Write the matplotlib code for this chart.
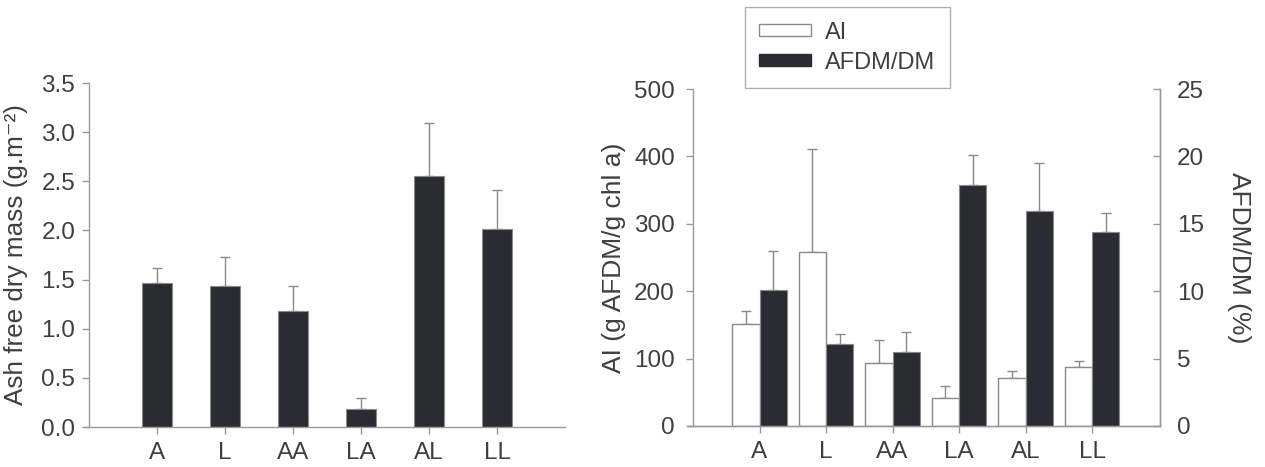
import numpy as np
import matplotlib
matplotlib.use("Agg")
import matplotlib.pyplot as plt
from matplotlib.patches import Patch

plt.rcParams['font.family'] = ['Liberation Sans', 'DejaVu Sans']

# data
treatments = ['A', 'L', 'AA', 'LA', 'AL', 'LL']
afdm_mean = [1.465, 1.435, 1.18, 0.18, 2.555, 2.01]
afdm_err = [0.155, 0.295, 0.255, 0.115, 0.535, 0.40]

ai_mean = [151, 258, 93, 42, 71, 88]
ai_err = [19, 153, 35, 18, 10, 8]
ratio_mean = [10.1, 6.05, 5.5, 17.9, 15.95, 14.4]
ratio_err = [2.9, 0.75, 1.5, 2.2, 3.55, 1.4]

dark = '#2b2c31'
edge = '#8a8a8a'
axcol = '#9a9a9a'
txt = '#3f3f3f'
fs = 17.5

W, H = 1265, 467
fig = plt.figure(figsize=(W / 100, H / 100), dpi=100)

def style(ax):
    for s in ax.spines.values():
        s.set_color(axcol)
        s.set_linewidth(1.0)
    ax.tick_params(colors=axcol, labelcolor=txt, labelsize=fs, width=1.0, length=5)

# left panel
ax1 = fig.add_axes([85 / W, (H - 427) / H, 480 / W, 344 / H])
x = np.arange(len(treatments))
ax1.bar(x, afdm_mean, width=0.43, color=dark, edgecolor=edge, linewidth=0.8, zorder=2)
ax1.errorbar(x, afdm_mean, yerr=[np.zeros(len(x)), afdm_err], fmt='none',
             ecolor=edge, elinewidth=1.0, capsize=3.8, capthick=1.0, zorder=1)
ax1.set_xlim(-1.06, 6.0)
ax1.set_ylim(0, 3.5)
ax1.set_yticks(np.arange(0, 3.51, 0.5))
ax1.set_yticklabels([f'{v:.1f}' for v in np.arange(0, 3.51, 0.5)])
ax1.set_xticks(x)
ax1.set_xticklabels(treatments)
ax1.spines['top'].set_visible(False)
ax1.spines['right'].set_visible(False)
ax1.spines['left'].set_position(('data', -1))
style(ax1)
ax1.tick_params(axis='x', pad=6)
ax1.tick_params(axis='y', pad=5)
ax1.set_ylabel('Ash free dry mass (g.m⁻²)', fontsize=18.8, color=txt)
ax1.yaxis.set_label_coords(-0.118, 0.5)

# right panel
ax2 = fig.add_axes([688 / W, (H - 426) / H, 472 / W, 337 / H])
bw = 0.41
ax2.bar(x - bw, ai_mean, width=bw, align='edge', color='white', edgecolor=edge,
        linewidth=1.0, zorder=2, label='AI')
ax2.errorbar(x - bw / 2, ai_mean, yerr=[np.zeros(len(x)), ai_err], fmt='none',
             ecolor=edge, elinewidth=1.0, capsize=3.8, capthick=1.0, zorder=1)
ax2.set_xlim(-1.075, 6.02)
ax2.set_ylim(0, 500)
ax2.set_yticks(range(0, 501, 100))
ax2.set_xticks(x)
ax2.set_xticklabels(treatments)
ax2.spines['top'].set_visible(False)
ax2.spines['left'].set_position(('data', -1))
style(ax2)
ax2.tick_params(axis='x', pad=6)
ax2.tick_params(axis='y', pad=8)
ax2.set_ylabel('AI (g AFDM/g chl a)', fontsize=19, color=txt, labelpad=6)

ax3 = ax2.twinx()
ax3.bar(x, ratio_mean, width=bw, align='edge', color=dark, edgecolor=edge,
        linewidth=0.8, zorder=2, label='AFDM/DM')
ax3.errorbar(x + bw / 2, ratio_mean, yerr=[np.zeros(len(x)), ratio_err], fmt='none',
             ecolor=edge, elinewidth=1.0, capsize=3.8, capthick=1.0, zorder=1)
ax3.set_ylim(0, 25)
ax3.set_yticks(range(0, 26, 5))
ax3.spines['top'].set_visible(False)
ax3.spines['left'].set_visible(False)
style(ax3)
ax3.tick_params(axis='y', direction='in', pad=12)
ax3.set_ylabel('AFDM/DM (%)', fontsize=19, color=txt, rotation=270, labelpad=34)

handles = [Patch(facecolor='white', edgecolor=edge, label='AI'),
           Patch(facecolor=dark, edgecolor=dark, label='AFDM/DM')]
leg = fig.legend(handles=handles, loc='lower left',
                 bbox_to_anchor=(745 / W, (H - 88) / H), fontsize=17,
                 frameon=True, fancybox=False, handlelength=2.2, handleheight=0.4,
                 borderpad=0.6, labelspacing=0.35, handletextpad=0.6, borderaxespad=0)
leg.get_frame().set_edgecolor(axcol)
leg.get_frame().set_linewidth(1.0)
for t in leg.get_texts():
    t.set_color(txt)

fig.savefig('out.png', dpi=100)
